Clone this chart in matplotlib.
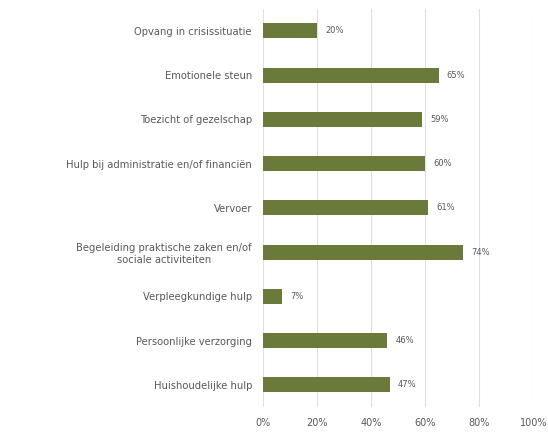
import matplotlib
matplotlib.use("Agg")
import matplotlib.pyplot as plt
from matplotlib.ticker import FuncFormatter

categories = [
    "Opvang in crisissituatie",
    "Emotionele steun",
    "Toezicht of gezelschap",
    "Hulp bij administratie en/of financiën",
    "Vervoer",
    "Begeleiding praktische zaken en/of\nsociale activiteiten",
    "Verpleegkundige hulp",
    "Persoonlijke verzorging",
    "Huishoudelijke hulp",
]
values = [20, 65, 59, 60, 61, 74, 7, 46, 47]
xticks = [0, 20, 40, 60, 80, 100]

bar_color = "#697a3a"
text_color = "#595959"

fig = plt.figure(figsize=(5.48, 4.33), dpi=100)
ax = fig.add_axes([0.48, 0.06, 0.493, 0.92])

y = list(range(len(categories)))
ax.barh(y, values, height=0.34, color=bar_color, zorder=3)
ax.set_ylim(len(categories) - 0.5, -0.5)
ax.set_xlim(0, 100)
ax.set_yticks(y)
ax.set_yticklabels(categories, fontsize=7.2, color=text_color)
ax.set_xticks(xticks)
ax.xaxis.set_major_formatter(FuncFormatter(lambda v, p: f"{int(v)}%"))
ax.tick_params(axis="x", labelsize=7, colors=text_color, length=0, pad=8)
ax.tick_params(axis="y", length=0, pad=8)
for lbl in ax.get_yticklabels():
    lbl.set_horizontalalignment("right")
    lbl.set_multialignment("center")

ax.grid(axis="x", color="#e0e0e0", linewidth=0.8, zorder=0)
for s in ax.spines.values():
    s.set_visible(False)

for yi, v in zip(y, values):
    ax.text(v + 3, yi, f"{v}%", va="center", ha="left", fontsize=6, color=text_color)

fig.savefig("out.png", dpi=100)
